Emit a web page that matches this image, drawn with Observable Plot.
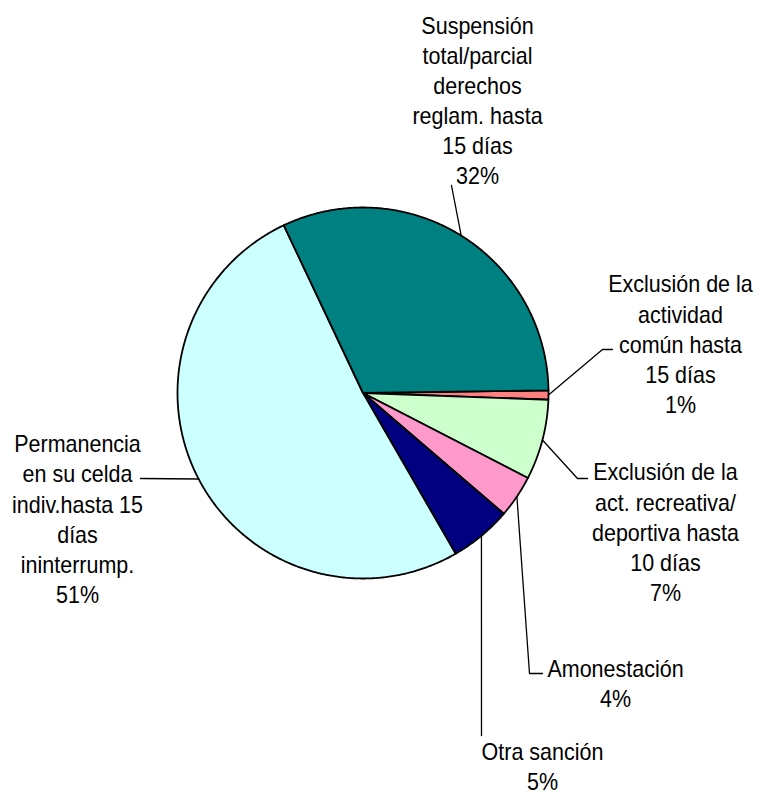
<!DOCTYPE html>
<html>
<head>
<meta charset="utf-8">
<script src="https://cdn.jsdelivr.net/npm/d3@7"></script>
<script src="https://cdn.jsdelivr.net/npm/@observablehq/plot@0.6"></script>
<style>
  html, body { margin: 0; padding: 0; background: #fff; }
  #chart svg { display: block; }
</style>
</head>
<body>
<div id="chart"></div>
<script>
// ---- Data ----
const categories = [
  "Exclusión de la\nactividad\ncomún hasta\n15 días",
  "Exclusión de la\nact. recreativa/\ndeportiva hasta\n10 días",
  "Amonestación",
  "Otra sanción",
  "Permanencia\nen su celda\nindiv.hasta 15\ndías\nininterrump.",
  "Suspensión\ntotal/parcial\nderechos\nreglam. hasta\n15 días"
];
const values = [0.8, 7.0, 3.7, 5.4, 51.3, 31.8];
const percentLabels = ["1%", "7%", "4%", "5%", "51%", "32%"];
const colors = ["#FF8080", "#CCFFCC", "#FF99CC", "#000080", "#CCFFFF", "#008080"];

// ---- Layout ----
const W = 768, H = 795;
const pieLayout = {cx: 362.5, cy: 392.5, r: 185.5, startDeg: 89.2};
// label block centers and leader-line bends (pixel layout)
const labelLayout = [
  {x: 680, y: 342.5, bend: [[602, 349], [612, 349]]},
  {x: 665, y: 530.5, bend: [[577, 478], [587, 478]]},
  {x: 615, y: 682,   bend: [[529, 673], [542, 673]]},
  {x: 542, y: 765,   bend: [[481, 735]]},
  {x: 77,  y: 517.5, bend: [[140, 478]]},
  {x: 477, y: 99,    bend: [[451, 185]]}
];

const toRad = Math.PI / 180;
const arcs = d3.pie().sort(null).value(d => d)
  .startAngle(pieLayout.startDeg * toRad)
  .endAngle(pieLayout.startDeg * toRad + 2 * Math.PI)(values);

function pt(a, r) {
  return {x: pieLayout.cx + r * Math.sin(a), y: pieLayout.cy - r * Math.cos(a)};
}

const marks = [];
arcs.forEach((a, i) => {
  const pts = [{x: pieLayout.cx, y: pieLayout.cy}];
  const n = Math.max(2, Math.ceil((a.endAngle - a.startAngle) / (0.5 * toRad)));
  for (let k = 0; k <= n; k++) {
    pts.push(pt(a.startAngle + (a.endAngle - a.startAngle) * k / n, pieLayout.r));
  }
  pts.push({x: pieLayout.cx, y: pieLayout.cy});
  marks.push(Plot.line(pts, {x: "x", y: "y", fill: colors[i], stroke: "black",
    strokeWidth: 1.8, strokeLinejoin: "round"}));
});

// leader lines
arcs.forEach((a, i) => {
  const mid = (a.startAngle + a.endAngle) / 2;
  const pts = [pt(mid, pieLayout.r)].concat(labelLayout[i].bend.map(([x, y]) => ({x, y})));
  marks.push(Plot.line(pts, {x: "x", y: "y", stroke: "black", strokeWidth: 1.3}));
});

// labels
const labels = categories.map((c, i) => ({
  text: c + "\n" + percentLabels[i],
  x: labelLayout[i].x, y: labelLayout[i].y
}));
marks.push(Plot.text(labels, {
  x: "x", y: "y", text: "text", fill: "black",
  fontSize: 23, lineHeight: 1.31, textAnchor: "middle",
  fontFamily: "'Liberation Sans', Arial, sans-serif"
}));

const chart = Plot.plot({
  width: W, height: H,
  margin: 0,
  x: {domain: [0, W], range: [0, W], axis: null},
  y: {domain: [0, H], range: [0, H], axis: null},
  style: {background: "white"},
  marks
});
// slightly condensed glyphs, like the reference
chart.querySelectorAll("g[aria-label='text'] text").forEach(t => {
  const tr = t.getAttribute("transform") || "";
  t.setAttribute("transform", tr + " scale(0.935,1)");
});
document.getElementById("chart").appendChild(chart);
</script>
</body>
</html>
